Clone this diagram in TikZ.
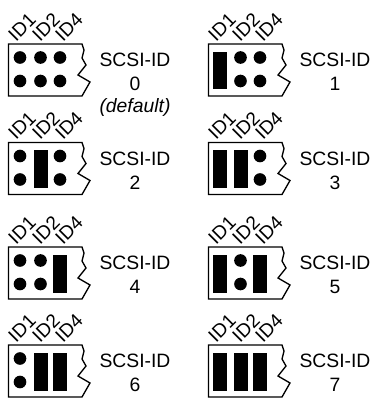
\documentclass[tikz,border=0pt]{standalone}
\usepackage{fontspec}
\setmainfont{Liberation Sans}
\tikzset{x=0.75pt,y=-0.75pt,
 lab/.style={font=\fontsize{14.5}{17}\selectfont,inner sep=0pt,anchor=center},
 idl/.style={font=\fontsize{14.3}{16}\selectfont,inner sep=0pt,rotate=45,anchor=center},
 outline/.style={draw=black,line width=1pt,line join=miter},
 pin/.style={fill=black,draw=none,circle,minimum size=9.5pt,inner sep=0pt}}
% #1 x shift #2 y shift #3 id #4,#5,#6 jumper flags
\newcommand{\jumperblock}[6]{%
\begin{scope}[shift={(#1,#2)}]
\node[idl] (id1#3) at (22,-17) {ID1};
\node[idl] (id2#3) at (46,-17) {ID2};
\node[idl] (id4#3) at (69,-17) {ID4};
\draw[outline] (82,0) -- (8.5,0) -- (8.5,52) -- (82,52) -- (90,38) -- (78,31) -- (86,21) -- (82,14) -- (84,6) -- cycle;
\foreach \xx/\fl in {20/#4,40.5/#5,60/#6}{
 \ifnum\fl=1
  \fill[black] (\xx-7,8) rectangle (\xx+7,45.5);
 \else
  \node[pin] at (\xx,13.5) {};
  \node[pin] at (\xx,37) {};
 \fi}
\node[lab] (t#3) at (135,16) {SCSI-ID};
\node[lab] (n#3) at (135,40) {#3};
\end{scope}}
\begin{document}
\begin{tikzpicture}
\useasboundingbox (0,0) rectangle (372,398);
\jumperblock{0}{44}{0}{0}{0}{0}
\node[font=\fontsize{14.5}{17}\selectfont\itshape,inner sep=0pt] (def) at (135,107) {(default)};
\jumperblock{200}{44}{1}{1}{0}{0}
\jumperblock{0}{142.5}{2}{0}{1}{0}
\jumperblock{200}{142.5}{3}{1}{1}{0}
\jumperblock{0}{247}{4}{0}{0}{1}
\jumperblock{200}{247}{5}{1}{0}{1}
\jumperblock{0}{345}{6}{0}{1}{1}
\jumperblock{200}{345}{7}{1}{1}{1}
\end{tikzpicture}
\end{document}
